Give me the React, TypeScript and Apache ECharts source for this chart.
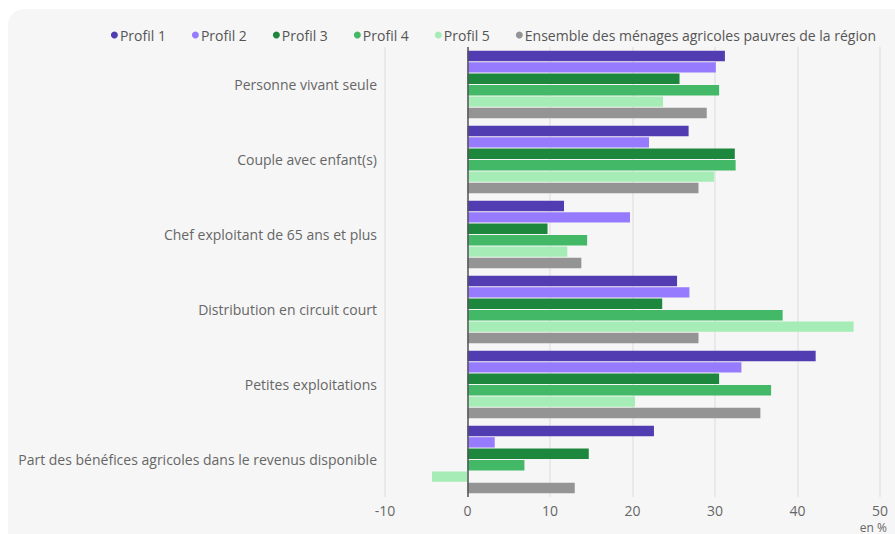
import React, { useEffect, useRef } from "react";
import * as echarts from "echarts";

const categories = [
  "Personne vivant seule",
  "Couple avec enfant(s)",
  "Chef exploitant de 65 ans et plus",
  "Distribution en circuit court",
  "Petites exploitations",
  "Part des bénéfices agricoles dans le revenus disponible",
];

const seriesNames = [
  "Profil 1",
  "Profil 2",
  "Profil 3",
  "Profil 4",
  "Profil 5",
  "Ensemble des ménages agricoles pauvres de la région",
];

const profil1 = [31.2, 26.8, 11.7, 25.4, 42.2, 22.6];
const profil2 = [30.1, 22.0, 19.7, 26.9, 33.2, 3.3];
const profil3 = [25.7, 32.4, 9.7, 23.6, 30.5, 14.7];
const profil4 = [30.5, 32.5, 14.5, 38.2, 36.8, 6.9];
const profil5 = [23.7, 29.9, 12.1, 46.8, 20.3, -4.3];
const ensemble = [29.0, 28.0, 13.8, 28.0, 35.5, 13.0];

const seriesValues = [profil1, profil2, profil3, profil4, profil5, ensemble];
const colors = ["#523cb1", "#977bfe", "#1e873e", "#43b967", "#a6ecb6", "#949494"];

const xMin = -10;
const xMax = 50;
const xInterval = 10;
const unitLabel = "en %";

export default function App() {
  const ref = useRef<HTMLDivElement>(null);

  useEffect(() => {
    if (!ref.current) return;
    const chart = echarts.init(ref.current, undefined, { renderer: "svg" });
    const font = "'Open Sans', 'Noto Sans', sans-serif";
    chart.setOption({
      animation: false,
      textStyle: { fontFamily: font },
      legend: {
        right: 14,
        top: 23,
        icon: "circle",
        itemWidth: 7,
        itemHeight: 7,
        itemGap: 26,
        textStyle: { fontSize: 14, color: "#555", fontFamily: font, padding: [0, 0, 0, -3] },
        data: seriesNames,
      },
      grid: { left: 385, right: 15, top: 47, bottom: 37, containLabel: false },
      xAxis: {
        type: "value",
        min: xMin,
        max: xMax,
        interval: xInterval,
        axisLine: { show: false },
        axisTick: { show: false },
        axisLabel: { color: "#666", fontSize: 14, margin: 6, lineHeight: 14, fontFamily: font },
        splitLine: { show: true, lineStyle: { color: "#e4e4e4", width: 1.5 } },
      },
      yAxis: {
        type: "category",
        data: categories,
        inverse: true,
        axisLine: { show: false, onZero: false },
        axisTick: { show: false },
        axisLabel: { color: "#666", fontSize: 14, margin: 8, fontFamily: font, padding: [4, 0, 0, 0] },
      },
      graphic: [
        {
          type: "text",
          x: 887,
          y: 527,
          style: {
            text: unitLabel,
            fill: "#666",
            font: `12px ${font}`,
            align: "right",
            verticalAlign: "middle",
          },
        },
      ],
      series: seriesNames.map((name, i) => ({
        name,
        type: "bar",
        data: seriesValues[i],
        barCategoryGap: "10%",
        barGap: "10%",
        itemStyle: { color: colors[i] },
        emphasis: { disabled: true },
        markLine:
          i === 0
            ? {
                silent: true,
                symbol: "none",
                label: { show: false },
                lineStyle: { color: "#555", width: 1.5, type: "solid" },
                data: [{ xAxis: 0 }],
              }
            : undefined,
      })),
    });
    return () => chart.dispose();
  }, []);

  return (
    <div style={{ position: "fixed", left: 0, top: 0, right: 0, bottom: 0, background: "#fff", overflow: "hidden" }}>
      <div
        style={{
          position: "absolute",
          left: 8,
          top: 9,
          right: 0,
          bottom: 0,
          background: "#f6f6f6",
          borderTopLeftRadius: 16,
        }}
      />
      <div ref={ref} style={{ position: "absolute", left: 0, top: 0, width: 895, height: 534 }} />
    </div>
  );
}
